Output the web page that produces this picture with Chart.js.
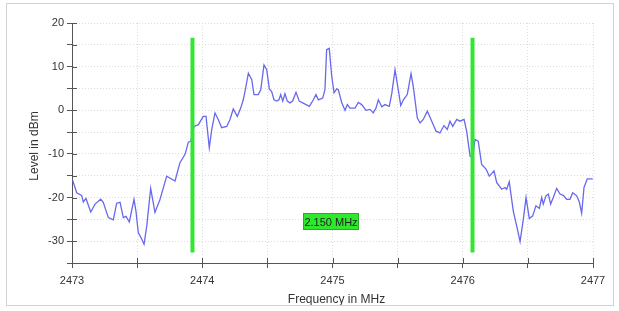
<!DOCTYPE html>
<html>
<head>
<meta charset="utf-8">
<script src="https://cdn.jsdelivr.net/npm/chart.js@4/dist/chart.umd.min.js"></script>
<style>
  html, body { margin: 0; padding: 0; background: #ffffff; }
  canvas { display: block; }
</style>
</head>
<body>
<canvas id="c" width="619" height="311"></canvas>
<script>
// ---- data ----
const frequencyMHz = [
  2473.005, 2473.036, 2473.074, 2473.087, 2473.107, 2473.144, 2473.177, 2473.220, 2473.240, 2473.279,
  2473.317, 2473.343, 2473.369, 2473.394, 2473.415, 2473.440, 2473.476, 2473.491, 2473.509, 2473.535,
  2473.553, 2473.574, 2473.604, 2473.637, 2473.676, 2473.727, 2473.791, 2473.829, 2473.868, 2473.893,
  2473.911, 2473.937, 2473.970, 2474.008, 2474.029, 2474.054, 2474.073, 2474.098, 2474.123, 2474.149,
  2474.188, 2474.213, 2474.238, 2474.269, 2474.295, 2474.315, 2474.328, 2474.354, 2474.380, 2474.397,
  2474.430, 2474.449, 2474.474, 2474.495, 2474.515, 2474.533, 2474.551, 2474.572, 2474.589, 2474.602,
  2474.618, 2474.635, 2474.653, 2474.674, 2474.694, 2474.720, 2474.745, 2474.771, 2474.797, 2474.822,
  2474.853, 2474.873, 2474.891, 2474.925, 2474.942, 2474.955, 2474.975, 2474.994, 2475.012, 2475.032,
  2475.045, 2475.071, 2475.096, 2475.114, 2475.134, 2475.173, 2475.198, 2475.224, 2475.257, 2475.288,
  2475.313, 2475.334, 2475.352, 2475.378, 2475.403, 2475.436, 2475.455, 2475.480, 2475.505, 2475.524,
  2475.544, 2475.574, 2475.603, 2475.620, 2475.651, 2475.672, 2475.697, 2475.728, 2475.762, 2475.795,
  2475.825, 2475.856, 2475.881, 2475.902, 2475.923, 2475.954, 2475.979, 2476.010, 2476.030, 2476.056,
  2476.076, 2476.094, 2476.119, 2476.145, 2476.179, 2476.204, 2476.240, 2476.261, 2476.299, 2476.324,
  2476.337, 2476.357, 2476.388, 2476.414, 2476.440, 2476.465, 2476.486, 2476.511, 2476.537, 2476.562,
  2476.588, 2476.606, 2476.618, 2476.639, 2476.657, 2476.675, 2476.695, 2476.721, 2476.747, 2476.772,
  2476.798, 2476.823, 2476.844, 2476.875, 2476.895, 2476.913, 2476.931, 2476.956, 2476.998
];
const levelDBm = [
  -16.0, -18.9, -19.5, -21.0, -20.2, -23.3, -21.5, -20.4, -21.1, -24.6,
  -25.1, -21.3, -21.1, -24.6, -24.3, -25.6, -20.4, -23.1, -28.0, -29.5,
  -30.7, -26.5, -17.9, -23.4, -20.4, -15.1, -16.2, -12.0, -10.1, -7.3,
  -7.1, -3.7, -3.3, -1.4, -1.4, -8.6, -4.4, -0.6, -2.1, -4.0,
  -3.7, -2.1, 0.3, -1.4, 0.5, 2.4, 4.3, 8.5, 7.0, 3.6,
  3.6, 4.7, 10.4, 9.3, 4.9, 4.3, 2.4, 2.1, 2.4, 3.6,
  2.1, 3.8, 2.1, 1.7, 2.1, 4.1, 2.1, 1.7, 1.3, 0.9,
  2.4, 3.6, 2.4, 2.8, 4.7, 13.9, 14.2, 7.8, 4.0, 4.9,
  4.7, 1.7, 0.0, 1.3, 0.5, 0.5, 1.8, 1.3, 0.0, 0.2,
  -0.6, 0.5, 2.4, 0.8, 1.3, 0.9, 3.8, 9.3, 4.7, 1.1,
  2.4, 3.6, 8.4, 5.5, -1.7, -2.9, -2.1, -0.2, -2.5, -4.8,
  -5.2, -3.5, -4.4, -2.5, -3.7, -2.1, -2.5, -2.1, -4.8, -10.5,
  -10.9, -6.7, -7.1, -12.4, -13.5, -15.1, -13.9, -16.6, -18.1, -17.7,
  -18.1, -16.4, -23.1, -26.5, -30.1, -25.0, -20.0, -24.8, -24.2, -21.9,
  -22.5, -20.0, -21.5, -19.6, -19.2, -21.5, -20.0, -17.9, -19.2, -19.5,
  -20.4, -20.4, -18.9, -19.6, -21.0, -23.6, -17.7, -15.7, -15.7
];
const markerFreqs = [2473.925, 2476.075];   // green marker lines
const markerSpan = [16.6, -32.6];           // top / bottom level of marker lines
const xRange = [2473, 2477];
const yRange = [-35, 20];
const xTitle = 'Frequency in MHz';
const yTitle = 'Level in dBm';
const bandwidthLabel = (markerFreqs[1] - markerFreqs[0]).toFixed(3) + ' MHz';
const labelAnchor = { x: 2474.77, y: -23.5 }; // top-left of marker label box (data units)

// ---- chart ----
const FONT = '"Liberation Sans", Arial, sans-serif';
const AXIS = '#555555';

const extras = {
  id: 'extras',
  afterDraw(chart) {
    const ctx = chart.ctx;
    const xs = chart.scales.x, ys = chart.scales.y;
    ctx.save();
    // inner halves of tick marks
    ctx.strokeStyle = AXIS; ctx.lineWidth = 1;
    ctx.beginPath();
    ys.ticks.forEach(t => {
      const py = Math.round(ys.getPixelForValue(t.value)) + 0.5;
      ctx.moveTo(xs.left, py); ctx.lineTo(xs.left + 5, py);
    });
    xs.ticks.forEach(t => {
      const px = Math.round(xs.getPixelForValue(t.value)) + 0.5;
      ctx.moveTo(px, ys.bottom); ctx.lineTo(px, ys.bottom - 5);
    });
    ctx.stroke();
    // axis titles
    ctx.fillStyle = '#333333';
    ctx.font = '12px ' + FONT;
    ctx.textAlign = 'center'; ctx.textBaseline = 'middle';
    ctx.fillText(xTitle, (xs.left + xs.right) / 2 + 4, 300);
    ctx.translate(35, (ys.top + ys.bottom) / 2 + 3);
    ctx.rotate(-Math.PI / 2);
    ctx.fillText(yTitle, 0, 0);
    ctx.restore();
    // bandwidth label box
    ctx.save();
    const bx = Math.round(xs.getPixelForValue(labelAnchor.x));
    const by = Math.round(ys.getPixelForValue(labelAnchor.y));
    const bw = 56, bh = 17;
    ctx.fillStyle = '#2ee82e';
    ctx.fillRect(bx, by, bw, bh);
    ctx.strokeStyle = '#22b022';
    ctx.strokeRect(bx + 0.5, by + 0.5, bw - 1, bh - 1);
    ctx.fillStyle = '#222222';
    ctx.font = '11px ' + FONT;
    ctx.textAlign = 'center'; ctx.textBaseline = 'middle';
    ctx.fillText(bandwidthLabel, bx + bw / 2, by + bh / 2 + 1);
    ctx.restore();
    // outer frame
    ctx.save();
    ctx.strokeStyle = '#d2d2d2'; ctx.lineWidth = 1;
    ctx.strokeRect(6.5, 3.5, 607, 302);
    ctx.restore();
  }
};

const spectrum = frequencyMHz.map((f, i) => ({ x: f, y: levelDBm[i] }));
const markerSets = markerFreqs.map(f => ({
  data: [{ x: f, y: markerSpan[0] }, { x: f, y: markerSpan[1] }],
  borderColor: '#33e633',
  borderWidth: 4,
  pointRadius: 0,
  borderCapStyle: 'butt',
  order: 0
}));

new Chart(document.getElementById('c'), {
  type: 'line',
  data: {
    datasets: [
      {
        data: spectrum,
        borderColor: '#6868ee',
        borderWidth: 1.3,
        pointRadius: 0,
        tension: 0,
        order: 1
      },
      ...markerSets
    ]
  },
  options: {
    responsive: false,
    animation: false,
    devicePixelRatio: 1,
    layout: { padding: { left: 0, top: 23, right: 26, bottom: 0 } },
    plugins: { legend: { display: false }, tooltip: { enabled: false } },
    scales: {
      x: {
        type: 'linear',
        min: xRange[0], max: xRange[1],
        afterFit(s) { s.height = 48; },
        grid: {
          color: '#dcdcdc', lineWidth: 1,
          drawTicks: true, tickLength: 5, tickColor: AXIS, tickBorderDash: []
        },
        border: { display: true, color: AXIS, width: 1, dash: [1, 2] },
        ticks: {
          stepSize: 0.5,
          autoSkip: false,
          maxRotation: 0,
          padding: 6,
          color: '#333333',
          font: { family: FONT, size: 11 },
          callback: v => (Math.abs(v - Math.round(v)) < 1e-6 ? String(Math.round(v)) : '')
        }
      },
      y: {
        min: yRange[0], max: yRange[1],
        afterFit(s) { s.width = 72; },
        grid: {
          color: '#dcdcdc', lineWidth: 1,
          drawTicks: true, tickLength: 5, tickColor: AXIS, tickBorderDash: []
        },
        border: { display: true, color: AXIS, width: 1, dash: [1, 2] },
        ticks: {
          stepSize: 5,
          autoSkip: false,
          padding: 3,
          color: '#333333',
          font: { family: FONT, size: 11 },
          callback: v => (v % 10 === 0 ? String(v) : '')
        }
      }
    }
  },
  plugins: [extras]
});
</script>
</body>
</html>
